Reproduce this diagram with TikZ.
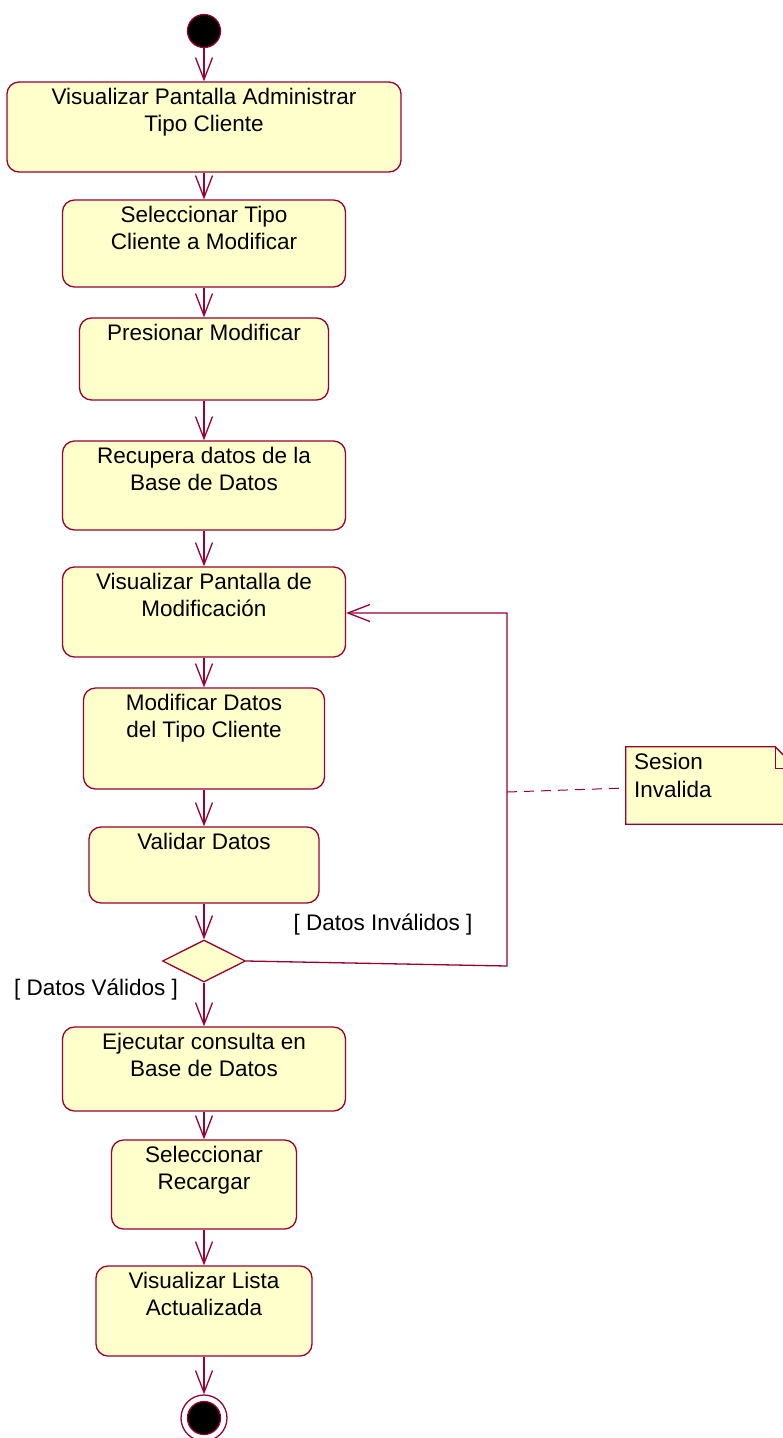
\documentclass[tikz,border=0pt]{standalone}
\usepackage{fontspec}
\setmainfont{Liberation Sans}
\usetikzlibrary{arrows.meta,shapes.geometric}

\definecolor{umlred}{HTML}{990033}
\definecolor{umlfill}{HTML}{FFFFCC}

\tikzset{
  actbox/.style={draw=umlred, fill=umlfill, line width=1.3pt, rounded corners=12pt, inner sep=0pt},
  acttext/.style={anchor=north, align=center, inner sep=0pt, yshift=-7pt},
  flow/.style={draw=umlred, line width=1.3pt, -{Straight Barb[length=22pt,width=17pt,line width=1.3pt]}},
  guard/.style={inner sep=0pt}
}

\begin{document}
\begin{tikzpicture}[x=1pt, y=-1pt, font=\fontsize{22.5}{27}\selectfont]
          \clip (0,0) rectangle (783,1438);
          \fill[white] (0,0) rectangle (783,1438);

          % start
          \node[circle, draw=umlred, fill=black, line width=1.3pt, minimum size=33pt, inner sep=0pt] (start) at (204,31) {};

          % activities
          \node[actbox, minimum width=394pt, minimum height=90pt,
            label={[acttext]north:{Visualizar Pantalla Administrar\\Tipo Cliente}}] (visadm) at (204,127) {};
          \node[actbox, minimum width=283pt, minimum height=87pt,
            label={[acttext]north:{Seleccionar Tipo\\Cliente a Modificar}}] (selec) at (204,243.5) {};
          \node[actbox, minimum width=249pt, minimum height=82pt,
            label={[acttext]north:{Presionar Modificar}}] (presmod) at (204,359) {};
          \node[actbox, minimum width=283pt, minimum height=89pt,
            label={[acttext]north:{Recupera datos de la\\Base de Datos}}] (recup) at (204,485.5) {};
          \node[actbox, minimum width=283pt, minimum height=90pt,
            label={[acttext]north:{Visualizar Pantalla de\\Modificaci\'on}}] (vismod) at (204,612) {};
          \node[actbox, minimum width=241pt, minimum height=101pt,
            label={[acttext]north:{Modificar Datos\\del Tipo Cliente}}] (moddat) at (204,738.5) {};
          \node[actbox, minimum width=230pt, minimum height=76pt,
            label={[acttext]north:{Validar Datos}}] (valdat) at (204,865) {};

          % decision
          \node[diamond, draw=umlred, fill=umlfill, line width=1.3pt, minimum width=83pt, minimum height=42pt, inner sep=0pt] (dec) at (204,961) {};

          \node[actbox, minimum width=283pt, minimum height=84pt,
            label={[acttext]north:{Ejecutar consulta en\\Base de Datos}}] (ejec) at (204,1069) {};
          \node[actbox, minimum width=185pt, minimum height=89pt,
            label={[acttext]north:{Seleccionar\\Recargar}}] (selrec) at (204,1184.5) {};
          \node[actbox, minimum width=216pt, minimum height=90pt,
            label={[acttext]north:{Visualizar Lista\\Actualizada}}] (vislist) at (204,1311) {};

          % end
          \node[circle, draw=umlred, line width=1.3pt, minimum size=46pt, inner sep=0pt] (stop) at (204,1418) {};
          \node[circle, draw=umlred, fill=black, line width=1.3pt, minimum size=33pt, inner sep=0pt] at (stop) {};

          % flow
          \draw[flow] (start) -- (visadm);
          \draw[flow] (visadm) -- (selec);
          \draw[flow] (selec) -- (presmod);
          \draw[flow] (presmod) -- (recup);
          \draw[flow] (recup) -- (vismod);
          \draw[flow] (vismod) -- (moddat);
          \draw[flow] (moddat) -- (valdat);
          \draw[flow] (valdat) -- (dec);
          \draw[flow] (dec) -- (ejec);
          \draw[flow] (ejec) -- (selrec);
          \draw[flow] (selrec) -- (vislist);
          \draw[flow] (vislist) -- (stop);

          % loop back
          \coordinate (loopbot) at (507,966);
          \coordinate (looptop) at (507,613);
          \draw[flow] (dec.east) -- (loopbot) -- (looptop) -- (vismod.east |- looptop);

          % guards
          \node[guard] (invalid) at (383,925) {[ Datos Inv\'alidos ]};
          \node[guard] (valid) at (96,990) {[ Datos V\'alidos ]};

          % note
          \node[inner sep=0pt, minimum width=171pt, minimum height=77pt] (note) at (711.5,785.5) {};
          \draw[umlred, fill=umlfill, line width=1.3pt]
            (note.north west) -- ([xshift=-22pt]note.north east) -- ([yshift=-22pt]note.north east)
            -- (note.south east) -- (note.south west) -- cycle;
          \draw[umlred, line width=1.3pt]
            ([xshift=-22pt]note.north east) -- ([xshift=-22pt,yshift=-22pt]note.north east) -- ([yshift=-22pt]note.north east);
          \node[anchor=north west, align=left, inner sep=0pt, font=\fontsize{22.5}{28}\selectfont] (notetext) at ([xshift=8pt,yshift=-6pt]note.north west) {Sesion\\Invalida};
          \coordinate (notept) at (507,792);
          \draw[umlred, line width=1pt, dash pattern=on 10pt off 7pt] (notept) -- ([yshift=-2.5pt]note.west);
        \end{tikzpicture}
\end{document}
